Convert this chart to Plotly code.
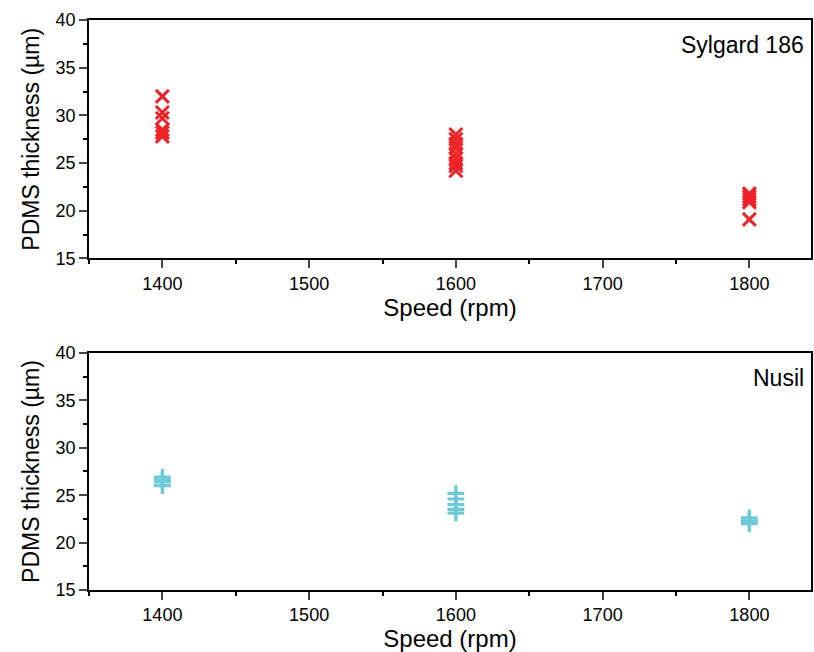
import plotly.graph_objects as go

# Sylgard 186 (top panel)
syl_speed = [1400]*6 + [1600]*9 + [1800]*5
syl_thick = [32.0, 30.3, 29.7, 28.5, 28.2, 27.8,
             28.0, 27.5, 27.0, 26.6, 26.0, 25.5, 25.0, 24.7, 24.2,
             21.8, 21.5, 21.2, 20.9, 19.1]

# Nusil (bottom panel)
nus_speed = [1400]*4 + [1600]*5 + [1800]*3
nus_thick = [26.9, 26.6, 26.4, 26.0,
             25.2, 24.6, 24.0, 23.5, 23.1,
             22.6, 22.3, 22.0]

x_ticks = [1400, 1500, 1600, 1700, 1800]
y_ticks = [15, 20, 25, 30, 35, 40]

RED = "#EE2229"
CYAN = "#6CCAD6"
FONT = "Liberation Sans, Arial, sans-serif"

fig = go.Figure()
fig.add_trace(go.Scatter(x=syl_speed, y=syl_thick, mode="markers",
                         marker=dict(symbol="x-thin", size=13, line=dict(color=RED, width=3)),
                         xaxis="x", yaxis="y", showlegend=False))
fig.add_trace(go.Scatter(x=nus_speed, y=nus_thick, mode="markers",
                         marker=dict(symbol="cross-thin", size=12, line=dict(color=CYAN, width=3.2)),
                         xaxis="x2", yaxis="y2", showlegend=False))

def xax(anchor):
    return dict(domain=[0, 1], anchor=anchor, range=[1350, 1842],
                tickvals=x_ticks, ticks="outside", ticklen=8, tickwidth=1.5,
                minor=dict(dtick=50, tick0=1350, ticks="outside", ticklen=4, tickwidth=1.5, tickcolor="black"),
                showline=True, linecolor="black", linewidth=1.5, mirror=True,
                showgrid=False, zeroline=False,
                tickfont=dict(family=FONT, size=18, color="black"),
                title=dict(text="Speed (rpm)", font=dict(family=FONT, size=24, color="black"), standoff=0))

def yax(anchor, dom):
    return dict(domain=dom, anchor=anchor, range=[15, 40],
                tickvals=y_ticks, ticks="outside", ticklen=8, tickwidth=1.5,
                minor=dict(dtick=2.5, tick0=15, ticks="outside", ticklen=4, tickwidth=1.5, tickcolor="black"),
                showline=True, linecolor="black", linewidth=1.5, mirror=True,
                showgrid=False, zeroline=False,
                tickfont=dict(family=FONT, size=18, color="black"),
                title=dict(text="PDMS thickness (\u00b5m)", font=dict(family=FONT, size=23, color="black"), standoff=10))

fig.update_layout(
    width=814, height=652,
    margin=dict(l=89, r=1, t=20, b=62),
    paper_bgcolor="white", plot_bgcolor="white",
    xaxis=xax("y"), yaxis=yax("x", [0.5816, 1.0]),
    xaxis2=xax("y2"), yaxis2=yax("x2", [0.0, 0.4158]),
    annotations=[
        dict(text="Sylgard 186", xref="x domain", yref="y domain", x=0.993, y=0.895,
             xanchor="right", yanchor="middle", showarrow=False,
             font=dict(family=FONT, size=23, color="black")),
        dict(text="Nusil", xref="x2 domain", yref="y2 domain", x=0.993, y=0.895,
             xanchor="right", yanchor="middle", showarrow=False,
             font=dict(family=FONT, size=23, color="black")),
    ],
)

fig.write_html("out.html")
